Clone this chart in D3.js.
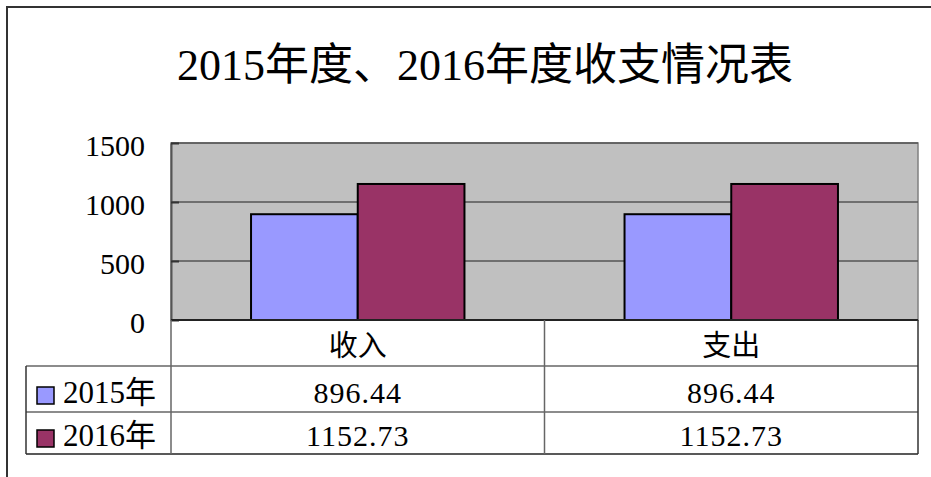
<!DOCTYPE html>
<html>
<head>
<meta charset="utf-8">
<script src="https://cdn.jsdelivr.net/npm/d3@7"></script>
<style>
  html, body { margin: 0; padding: 0; background: #fff; }
  svg text { font-family: "Liberation Serif", "Noto Sans CJK SC", serif; fill: #000; }
</style>
</head>
<body>
<svg id="chart" width="931" height="477"></svg>
<script>
// 数据
var categories = ["收入", "支出"];
var seriesNames = ["2015年", "2016年"];
var values2015 = [896.44, 896.44];
var values2016 = [1152.73, 1152.73];
var yTicks = [0, 500, 1000, 1500];
var seriesColors = ["#9999FF", "#993366"];

var svg = d3.select("#chart");
var W = 931, H = 477;

// 外框
svg.append("rect")
    .attr("x", 7).attr("y", 7)
    .attr("width", W + 20).attr("height", H + 20)
    .attr("fill", "#fff")
    .attr("stroke", "#333")
    .attr("stroke-width", 2);

// 标题
svg.append("text")
    .attr("x", 485).attr("y", 80)
    .attr("text-anchor", "middle")
    .attr("font-size", 44)
    .text("2015年度、2016年度收支情况表");

var plot = {left: 171, right: 918, top: 143, bottom: 320};

var x = d3.scaleBand()
    .domain(categories)
    .range([plot.left, plot.right]);

// gap width 150%
var xs = d3.scaleBand()
    .domain(seriesNames)
    .range([0, x.bandwidth()])
    .paddingOuter(0.75);

var y = d3.scaleLinear()
    .domain([0, 1500])
    .range([plot.bottom, plot.top]);

// 绘图区背景
svg.append("rect")
    .attr("x", plot.left).attr("y", plot.top)
    .attr("width", plot.right - plot.left)
    .attr("height", plot.bottom - plot.top)
    .attr("fill", "#c0c0c0")
    .attr("stroke", "#808080")
    .attr("stroke-width", 1.5);

// 网格线
svg.append("g").selectAll("line")
    .data(yTicks.filter(function (d) { return d > 0; }))
    .join("line")
    .attr("x1", plot.left).attr("x2", plot.right)
    .attr("y1", function (d) { return y(d); })
    .attr("y2", function (d) { return y(d); })
    .attr("stroke", "#555")
    .attr("stroke-width", 1.5);

// y 轴
var yAxis = d3.axisLeft(y)
    .tickValues(yTicks)
    .tickFormat(d3.format("d"))
    .tickSize(0)
    .tickPadding(26);
var gy = svg.append("g")
    .attr("transform", "translate(" + plot.left + ",0)")
    .call(yAxis);
gy.select(".domain").attr("stroke", "#555").attr("stroke-width", 2);
gy.selectAll(".tick text")
    .attr("font-size", 30)
    .attr("dy", "0.42em")
    .style("font-family", "'Liberation Serif', serif");
gy.selectAll(".tick").append("line")
    .attr("x1", 0).attr("x2", 8)
    .attr("stroke", "#333").attr("stroke-width", 2);

// 柱子
var series = [values2015, values2016];
var barData = [];
categories.forEach(function (c, i) {
    seriesNames.forEach(function (s, j) {
        barData.push({cat: c, name: s, value: series[j][i], color: seriesColors[j]});
    });
});

svg.append("g").selectAll("rect")
    .data(barData)
    .join("rect")
    .attr("x", function (d) { return x(d.cat) + xs(d.name); })
    .attr("y", function (d) { return y(d.value); })
    .attr("width", xs.bandwidth())
    .attr("height", function (d) { return y(0) - y(d.value); })
    .attr("fill", function (d) { return d.color; })
    .attr("stroke", "#000")
    .attr("stroke-width", 2);

// x 轴线
svg.append("line")
    .attr("x1", plot.left).attr("x2", plot.right)
    .attr("y1", plot.bottom).attr("y2", plot.bottom)
    .attr("stroke", "#222").attr("stroke-width", 2);

// 数据表
var rowTop = [320, 366, 412, 454];
var tableLeft = 26;
var lineColor = "#666";
var tbl = svg.append("g");

// 横线
tbl.append("line")
    .attr("x1", tableLeft).attr("x2", plot.right)
    .attr("y1", rowTop[1]).attr("y2", rowTop[1])
    .attr("stroke", lineColor).attr("stroke-width", 1.5);
tbl.append("line")
    .attr("x1", tableLeft).attr("x2", plot.right)
    .attr("y1", rowTop[2]).attr("y2", rowTop[2])
    .attr("stroke", lineColor).attr("stroke-width", 1.5);
tbl.append("line")
    .attr("x1", tableLeft).attr("x2", plot.right)
    .attr("y1", rowTop[3]).attr("y2", rowTop[3])
    .attr("stroke", "#222").attr("stroke-width", 1.5);

// 竖线
tbl.append("line")
    .attr("x1", tableLeft).attr("x2", tableLeft)
    .attr("y1", rowTop[1]).attr("y2", rowTop[3])
    .attr("stroke", "#333").attr("stroke-width", 1.5);
tbl.selectAll("line.v")
    .data(categories.map(function (c) { return x(c); }).concat([plot.right]))
    .join("line")
    .attr("class", "v")
    .attr("x1", function (d) { return d; })
    .attr("x2", function (d) { return d; })
    .attr("y1", rowTop[0]).attr("y2", rowTop[3])
    .attr("stroke", function (d, i) { return i === 2 ? "#333" : lineColor; })
    .attr("stroke-width", 1.5);

// 表头
tbl.selectAll("text.head")
    .data(categories)
    .join("text")
    .attr("class", "head")
    .attr("x", function (d) { return x(d) + x.bandwidth() / 2; })
    .attr("y", 356)
    .attr("text-anchor", "middle")
    .attr("font-size", 29)
    .text(function (d) { return d; });

// 数值行
series.forEach(function (vals, j) {
    var baseY = j === 0 ? 403 : 446;
    tbl.selectAll("text.val" + j)
        .data(vals)
        .join("text")
        .attr("class", "val" + j)
        .attr("x", function (d, i) { return x(categories[i]) + x.bandwidth() / 2; })
        .attr("y", baseY)
        .attr("text-anchor", "middle")
        .attr("font-size", 30)
        .attr("letter-spacing", 1)
        .text(function (d) { return d3.format(".2f")(d); });

    // 图例
    tbl.append("rect")
        .attr("x", 37).attr("y", j === 0 ? 387 : 430)
        .attr("width", 17).attr("height", 17)
        .attr("fill", seriesColors[j])
        .attr("stroke", "#000").attr("stroke-width", 1.5);
    tbl.append("text")
        .attr("x", 63).attr("y", baseY)
        .attr("font-size", 31)
        .text(seriesNames[j]);
});
</script>
</body>
</html>
